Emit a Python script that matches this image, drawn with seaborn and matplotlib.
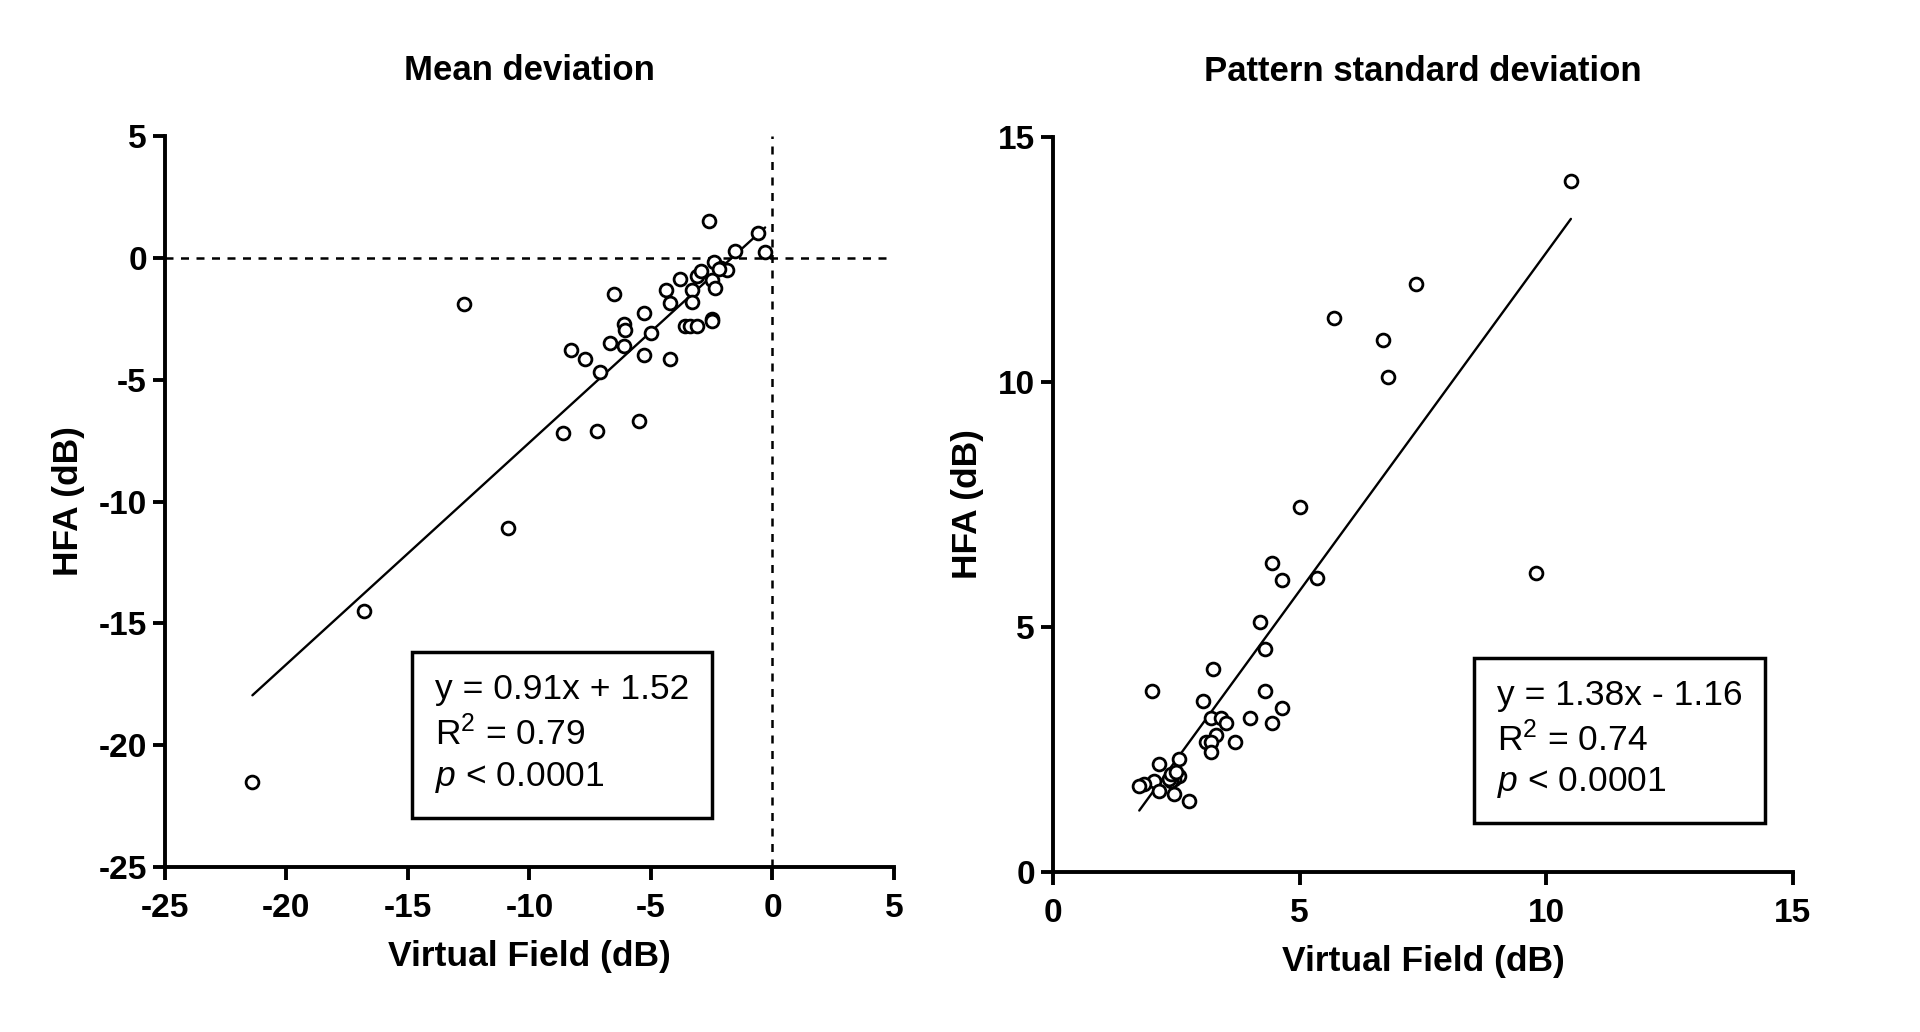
import numpy as np
import pandas as pd
import matplotlib
matplotlib.use("Agg")
import matplotlib.pyplot as plt
import seaborn as sns

# mean deviation (dB): virtual field vs HFA
md_vf = [-21.4, -16.8, -12.7, -10.9, -8.6, -7.2, -5.5, -8.3, -7.7, -7.1,
         -6.7, -6.1, -6.5, -6.1, -6.05, -5.3, -5.3, -5.0, -4.2, -4.4,
         -4.2, -3.8, -3.6, -3.4, -3.1, -3.3, -3.3, -3.1, -2.95, -2.5,
         -2.5, -2.6, -2.4, -2.1, -1.85, -2.5, -2.35, -2.2, -1.55, -0.6, -0.3]
md_hfa = [-21.5, -14.5, -1.9, -11.1, -7.2, -7.1, -6.7, -3.8, -4.15, -4.7,
          -3.5, -3.6, -1.5, -2.7, -2.95, -2.25, -4.0, -3.1, -4.15, -1.3,
          -1.85, -0.85, -2.8, -2.8, -2.8, -1.3, -1.8, -0.75, -0.55, -2.5,
          -2.6, 1.5, -0.15, -0.4, -0.5, -0.9, -1.25, -0.45, 0.3, 1.0, 0.25]

# pattern standard deviation (dB)
psd_vf = [10.5, 7.35, 5.7, 6.7, 6.8, 5.0, 4.45, 4.65, 5.35, 9.8,
          4.2, 4.3, 3.25, 2.0, 4.3, 3.05, 4.65, 4.0, 4.45, 3.2,
          3.4, 3.5, 3.3, 3.1, 3.2, 3.2, 3.7, 2.55, 2.15, 2.55,
          2.45, 2.4, 2.35, 2.05, 1.85, 1.75, 2.15, 2.45, 2.75, 2.4, 2.5]
psd_hfa = [14.1, 12.0, 11.3, 10.85, 10.1, 7.45, 6.3, 5.95, 6.0, 6.1,
           5.1, 4.55, 4.15, 3.7, 3.7, 3.5, 3.35, 3.15, 3.05, 3.15,
           3.15, 3.05, 2.8, 2.65, 2.65, 2.45, 2.65, 2.3, 2.2, 1.95,
           1.9, 1.85, 1.9, 1.85, 1.8, 1.75, 1.65, 1.6, 1.45, 2.0, 2.05]

# fitted lines as reported on the chart
md_fit = (0.91, 1.52)
psd_fit = (1.38, -1.16)

md_text = "y = 0.91x + 1.52\nR$^{2}$ = 0.79\n$p$ < 0.0001"
psd_text = "y = 1.38x - 1.16\nR$^{2}$ = 0.74\n$p$ < 0.0001"

md = pd.DataFrame({"vf": md_vf, "hfa": md_hfa})
psd = pd.DataFrame({"vf": psd_vf, "hfa": psd_hfa})


def fit_line(df, coef):
    xs = np.array([df["vf"].min(), df["vf"].max()])
    return pd.DataFrame({"vf": xs, "hfa": coef[0] * xs + coef[1]})


sns.set_theme(style="ticks")
plt.rcParams["font.family"] = ["Liberation Sans", "DejaVu Sans"]
plt.rcParams["mathtext.fontset"] = "custom"
plt.rcParams["mathtext.rm"] = "Liberation Sans"
plt.rcParams["mathtext.it"] = "Liberation Sans:italic"
plt.rcParams["mathtext.bf"] = "Liberation Sans:bold"
plt.rcParams["axes.unicode_minus"] = False
for k in ["text.color", "axes.labelcolor", "xtick.color", "ytick.color",
          "xtick.labelcolor", "ytick.labelcolor"]:
    plt.rcParams[k] = "black"

fig = plt.figure(figsize=(19.2, 10.32), dpi=100)
ax1 = fig.add_axes([0.0859, 0.1599, 0.3797, 0.7083])
ax2 = fig.add_axes([0.5484, 0.155, 0.3854, 0.7122])

for ax, df, coef, title, lims, ticks, txt, tpos in [
    (ax1, md, md_fit, "Mean deviation", (-25, 5), range(-25, 6, 5), md_text, (0.370, 0.182)),
    (ax2, psd, psd_fit, "Pattern standard deviation", (0, 15), range(0, 16, 5), psd_text, (0.600, 0.180)),
]:
    if ax is ax1:
        ax.axhline(0, color="black", lw=1.8, ls=(0, (3.2, 3)), zorder=1)
        ax.axvline(0, color="black", lw=1.8, ls=(0, (3.2, 3)), zorder=1)
    sns.lineplot(data=fit_line(df, coef), x="vf", y="hfa", ax=ax,
                 color="black", lw=1.7, zorder=2)
    sns.scatterplot(data=df, x="vf", y="hfa", ax=ax, s=85,
                    facecolor="white", edgecolor="black", linewidth=2.0, zorder=3)
    ax.set_xlim(lims)
    ax.set_ylim(lims)
    ax.set_xticks(list(ticks))
    ax.set_yticks(list(ticks))
    sns.despine(ax=ax)
    for s in ["left", "bottom"]:
        ax.spines[s].set_linewidth(2.8)
        ax.spines[s].set_color("black")
    ax.tick_params(width=2.8, length=9, labelsize=24, color="black")
    ax.tick_params(axis="x", pad=10)
    ax.tick_params(axis="y", pad=4)
    for lab in ax.get_xticklabels() + ax.get_yticklabels():
        lab.set_fontweight("bold")
    ax.set_xlabel("Virtual Field (dB)", fontsize=25.5, fontweight="bold", labelpad=11)
    ax.set_ylabel("HFA (dB)", fontsize=25.5, fontweight="bold", labelpad=10)
    ax.set_title(title, fontsize=25, fontweight="bold", pad=40)
    ax.text(tpos[0], tpos[1], txt, transform=ax.transAxes, fontsize=25.5,
            va="center", ha="left", linespacing=1.3,
            bbox=dict(boxstyle="square,pad=0.65", fc="white", ec="black", lw=2.5))

fig.savefig("out.png", dpi=100)
